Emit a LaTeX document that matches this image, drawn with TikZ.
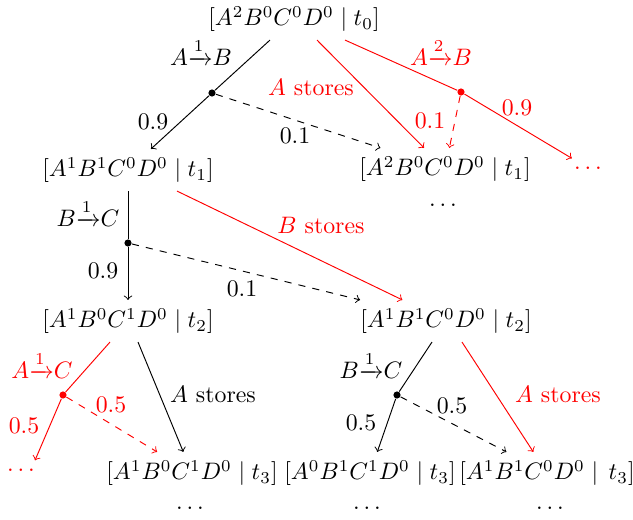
\documentclass[tikz,border=0pt]{standalone}
\usepackage{amsmath}
\usetikzlibrary{calc}
\definecolor{branchRed}{HTML}{FF0000}
\begin{document}
\begin{tikzpicture}[
    x=0.42pt, y=-0.42pt,
    state/.style={inner sep=3.33pt},
    cont/.style={inner sep=3.33pt},
    chance/.style={circle, fill, inner sep=0pt, minimum size=3pt},
    lbl/.style={inner sep=1pt},
    arr/.style={->},
    alt/.style={->, dashed},
    hot/.style={branchRed, text=branchRed}
]
\useasboundingbox (0,0) rectangle (633,520);

% Level 0
\node[state] (root) at (294,19) {$[A^2B^0C^0D^0 \mid t_0]$};

% Level 1
\node[state] (lt1) at (128,170) {$[A^1B^1C^0D^0 \mid t_1]$};
\node[state] (rt1) at (445,169) {$[A^2B^0C^0D^0 \mid t_1]$};
\node[cont] (rt1dots) at (443,205) {$\ldots$};
\node[cont, hot] (rdots) at (588,168) {$\ldots$};

% Level 2
\node[state] (lt2) at (128,321) {$[A^1B^0C^1D^0 \mid t_2]$};
\node[state] (rt2) at (446,321) {$[A^1B^1C^0D^0 \mid t_2]$};

% Level 3
\node[cont, hot] (ldots) at (21,470) {$\ldots$};
\node[state] (at3) at (192,473) {$[A^1B^0C^1D^0 \mid t_3]$};
\node[state] (bt3) at (370,473) {$[A^0B^1C^1D^0 \mid t_3]$};
\node[state] (ct3) at (547,473) {$[A^1B^1C^0D^0 \mid\, t_3]$};
\node[cont] (at3dots) at (190,508) {$\ldots$};
\node[cont] (bt3dots) at (367,508) {$\ldots$};
\node[cont] (ct3dots) at (550,508) {$\ldots$};

% Chance points
\node[chance] (ch1) at (212,93) {};
\node[chance, branchRed] (ch2) at (461,92) {};
\node[chance] (ch3) at (128,243) {};
\node[chance, branchRed] (ch4) at (63,395) {};
\node[chance] (ch5) at (397,395) {};

% Labels
\node[lbl] (l1) at (201,52) {$A{\xrightarrow{1}}B$};
\node[lbl] (l2) at (153,122) {$0.9$};
\node[lbl] (l3) at (295,136) {$0.1$};
\node[lbl, hot] (l4) at (311,88) {$A$ stores};
\node[lbl, hot] (l5) at (441,52) {$A{\xrightarrow{2}}B$};
\node[lbl, hot] (l6) at (517,108) {$0.9$};
\node[lbl, hot] (l7) at (430,121) {$0.1$};
\node[lbl] (l8) at (88,213) {$B{\xrightarrow{1}}C$};
\node[lbl] (l9) at (103,271) {$0.9$};
\node[lbl] (l10) at (242,289) {$0.1$};
\node[lbl, hot] (l11) at (321,226) {$B$ stores};
\node[lbl, hot] (l12) at (42,365) {$A{\xrightarrow{1}}C$};
\node[lbl, hot] (l13) at (24,426) {$0.5$};
\node[lbl, hot] (l14) at (111,405) {$0.5$};
\node[lbl] (l15) at (213,395) {$A$ stores};
\node[lbl] (l16) at (371,365) {$B{\xrightarrow{1}}C$};
\node[lbl] (l17) at (361,423) {$0.5$};
\node[lbl] (l18) at (452,406) {$0.5$};
\node[lbl, hot] (l19) at (558,395) {$A$ stores};

% Arrows
\draw ($(root.south)+(-24,0)$) -- (ch1);
\draw[arr] (ch1) -- (lt1);
\draw[alt] (ch1) -- (rt1);
\draw[arr, hot] ($(root.south)+(23,0)$) -- (rt1);
\draw[hot] ($(root.south)+(51,0)$) -- (ch2);
\draw[arr, hot] (ch2) -- (rdots);
\draw[alt, hot] (ch2) -- (rt1);

\draw (lt1.south) -- (ch3);
\draw[arr] (ch3) -- (lt2);
\draw[alt] (ch3) -- (rt2);
\draw[arr, hot] ($(lt1.south)+(49,0)$) -- (rt2);

\draw[hot] ($(lt2.south)+(-18,0)$) -- (ch4);
\draw[arr, hot] (ch4) -- ($(ldots.north)+(14,0)$);
\draw[alt, hot] (ch4) -- (at3);
\draw[arr] ($(lt2.south)+(10,0)$) -- (at3);

\draw ($(rt2.south)+(-14,0)$) -- (ch5);
\draw[arr] (ch5) -- (bt3);
\draw[alt] (ch5) -- (ct3);
\draw[arr, hot] ($(rt2.south)+(16,0)$) -- (ct3);

\end{tikzpicture}
\end{document}
